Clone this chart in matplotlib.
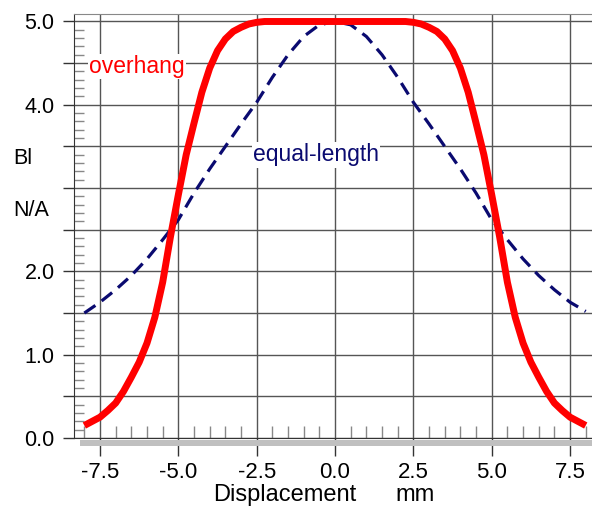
import matplotlib
matplotlib.use("Agg")
from matplotlib import pyplot as plt
from matplotlib.patches import Rectangle
from matplotlib.ticker import MultipleLocator, FixedLocator, FuncFormatter

plt.rcParams['font.family'] = ['Liberation Sans', 'DejaVu Sans']

# displacement in mm
x_red = [-8.0, -7.75, -7.5, -7.25, -7.0, -6.75, -6.5, -6.25, -6.0, -5.75, -5.5, -5.25,
         -5.0, -4.75, -4.5, -4.25, -4.0, -3.75, -3.5, -3.25, -3.0, -2.75, -2.5, -2.25,
         -2.0, -1.75, -1.5, -1.25, -1.0, -0.75, -0.5, -0.25, 0.0, 0.25, 0.5, 0.75,
         1.0, 1.25, 1.5, 1.75, 2.0, 2.25, 2.5, 2.75, 3.0, 3.25, 3.5, 3.75,
         4.0, 4.25, 4.5, 4.75, 5.0, 5.25, 5.5, 5.75, 6.0, 6.25, 6.5, 6.75,
         7.0, 7.25, 7.5, 7.75, 8.0]
x_blue = [-8.0, -7.5, -7.0, -6.5, -6.0, -5.5, -5.0, -4.5, -4.0, -3.5, -3.0, -2.5,
          -2.0, -1.5, -1.0, -0.5, 0.0, 0.5, 1.0, 1.5, 2.0, 2.5, 3.0, 3.5,
          4.0, 4.5, 5.0, 5.5, 6.0, 6.5, 7.0, 7.5, 8.0]

# Bl / N/A
overhang = [0.15, 0.20, 0.25, 0.33, 0.42, 0.56, 0.73, 0.91, 1.14, 1.45, 1.87, 2.42,
            2.92, 3.40, 3.78, 4.15, 4.44, 4.65, 4.79, 4.88, 4.93, 4.97, 4.99, 5.00,
            5.00, 5.00, 5.00, 5.00, 5.00, 5.00, 5.00, 5.00, 5.00, 5.00, 5.00, 5.00,
            5.00, 5.00, 5.00, 5.00, 5.00, 5.00, 4.99, 4.97, 4.93, 4.88, 4.79, 4.65,
            4.44, 4.15, 3.78, 3.40, 2.92, 2.42, 1.87, 1.45, 1.14, 0.91, 0.73, 0.56,
            0.42, 0.33, 0.25, 0.20, 0.15]
equal_length = [1.50, 1.63, 1.78, 1.95, 2.15, 2.38, 2.62, 2.94, 3.23, 3.50, 3.77, 4.03,
                4.33, 4.60, 4.82, 4.96, 5.00, 4.96, 4.82, 4.60, 4.33, 4.03, 3.77, 3.50,
                3.23, 2.94, 2.62, 2.38, 2.15, 1.95, 1.78, 1.63, 1.52]

y_labels = {0.0: "0.0", 1.0: "1.0", 2.0: "2.0", 4.0: "4.0", 5.0: "5.0"}


def main():
    fig = plt.figure(figsize=(5.92, 5.12), dpi=100)
    ax = fig.add_axes([74 / 592, 74 / 512, 518 / 592, 424 / 512])

    ax.plot(x_blue, equal_length, color="#0a0a70", lw=2.3, dashes=(4.2, 2.4), zorder=3)
    ax.plot(x_red, overhang, color="red", lw=5, solid_capstyle="butt",
            solid_joinstyle="round", zorder=4)

    ax.set_xlim(-8.33, 8.2)
    ax.set_ylim(0, 5.09)

    # grid
    ax.xaxis.set_major_locator(MultipleLocator(2.5))
    ax.yaxis.set_major_locator(MultipleLocator(0.5))
    ax.grid(True, color="#555555", lw=1.0, zorder=1)

    # ticks
    ax.xaxis.set_minor_locator(FixedLocator([v * 0.5 for v in range(-16, 17) if v % 5 != 0]))
    ax.yaxis.set_minor_locator(MultipleLocator(0.1))
    ax.tick_params(axis="x", which="major", direction="out", length=13, width=1,
                   color="#333333", labelsize=16, pad=4)
    ax.tick_params(axis="x", which="minor", direction="in", length=9, width=1,
                   color="#888888")
    ax.tick_params(axis="y", which="major", direction="out", length=8, width=1,
                   color="#333333", labelsize=15.5, pad=6)
    ax.tick_params(axis="y", which="minor", direction="in", length=7, width=1,
                   color="#888888")
    ax.yaxis.set_major_formatter(FuncFormatter(lambda v, p: y_labels.get(round(v, 1), "")))
    ax.xaxis.set_major_formatter(FuncFormatter(lambda v, p: "%.1f" % v))

    ax.spines["right"].set_visible(False)
    ax.spines["top"].set_color("#888888")
    ax.spines["left"].set_color("#333333")
    ax.spines["bottom"].set_color("#333333")

    # labels in the plot
    ax.text(-7.85, 4.46, "overhang", color="red", fontsize=16.5, va="center", ha="left",
            bbox=dict(facecolor="white", edgecolor="none", pad=1), zorder=5)
    ax.text(-2.62, 3.40, "equal-length", color="#0a0a70", fontsize=16.5, va="center",
            ha="left", bbox=dict(facecolor="white", edgecolor="none", pad=1), zorder=5)

    fig.text(13 / 592, 1 - 158 / 512, "Bl", fontsize=15.5, va="center", ha="left")
    fig.text(13 / 592, 1 - 210 / 512, "N/A", fontsize=15.5, va="center", ha="left")
    fig.text(213 / 592, 1 - 495 / 512, "Displacement", fontsize=17, va="center", ha="left")
    fig.text(395 / 592, 1 - 495 / 512, "mm", fontsize=17, va="center", ha="left")

    # gray bar under the axis
    fig.patches.append(Rectangle((80 / 592, 1 - 446 / 512), 512 / 592, 6 / 512,
                                 transform=fig.transFigure, facecolor="#c0c0c0",
                                 edgecolor="none", zorder=0))

    fig.savefig("out.png", dpi=100)


if __name__ == "__main__":
    main()
